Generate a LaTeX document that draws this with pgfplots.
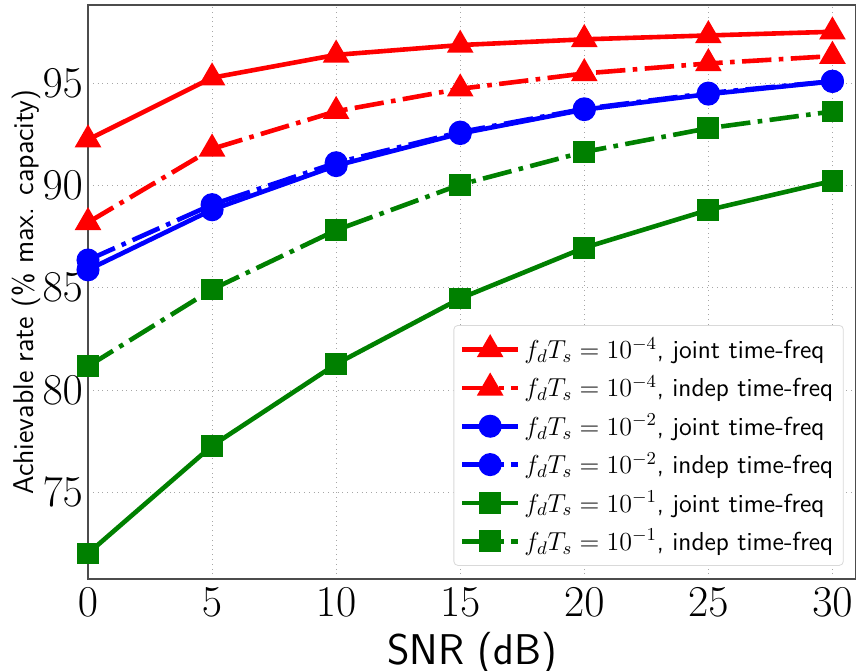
\documentclass[border=0pt]{standalone}
\usepackage{fix-cm}
\usepackage{fontspec}
\usepackage{pgfplots}
\pgfplotsset{compat=1.18}
\usetikzlibrary{calc}

\definecolor{mplgreen}{rgb}{0,0.5,0}

\pgfplotstableread{
snr  jt4   it4   jt2   it2   jt1   it1
0    92.25 88.2  85.88 86.36 72.0  81.16
5    95.28 91.8  88.82 89.07 77.27 84.92
10   96.40 93.64 90.98 91.12 81.27 87.82
15   96.88 94.74 92.55 92.62 84.48 90.05
20   97.16 95.49 93.72 93.76 86.96 91.65
25   97.35 95.98 94.48 94.53 88.81 92.81
30   97.53 96.34 95.10 95.11 90.23 93.63
}\rates

\tikzset{dashdotmpl/.style={dash pattern=on 14.7pt off 3.7pt on 2.3pt off 3.7pt}}

\begin{document}
\begin{tikzpicture}
\begin{axis}[
  name=ax,
  width=384pt, height=287pt,
  scale only axis,
  xmin=0, xmax=30.95,
  ymin=70.75, ymax=98.84,
  xtick={0,5,10,15,20,25,30},
  ytick={75,80,85,90,95},
  tick label style={font=\fontsize{22}{22}\selectfont},
  xticklabel style={yshift=-1pt},
  yticklabel style={xshift=1pt},
  xlabel={\sffamily SNR (dB)},
  ylabel={\sffamily Achievable rate (\% max. capacity)},
  xlabel style={font=\fontsize{21.5}{21.5}\selectfont, yshift=-1pt},
  ylabel style={font=\fontsize{14.3}{14.3}\selectfont, yshift=-6pt},
  axis line style={draw=black!70, line width=0.6pt},
  major tick length=0pt,
  grid=major,
  major grid style={draw=black!35, dotted, line width=0.4pt},
  legend style={
    at={(0.984,0.023)}, anchor=south east,
    draw=black!15, rounded corners=2pt, fill=white,
    font=\fontsize{13}{14}\selectfont\sffamily,
    row sep=3.1pt, inner xsep=3pt, inner ysep=4pt,
    cells={anchor=west},
  },
  legend image code/.code={%
    \draw[mark repeat=2,mark phase=2] plot coordinates {(0pt,0pt) (14pt,0pt) (28pt,0pt)};},
  every axis plot/.append style={line width=2.3pt},
]
\addplot[red, mark=triangle*, mark size=5.4pt, mark options={solid}] table[x=snr,y=jt4] {\rates};
\addlegendentry{$f_dT_s=10^{-4}$, joint time-freq}
\addplot[red, dashdotmpl, mark=triangle*, mark size=5.4pt, mark options={solid}] table[x=snr,y=it4] {\rates};
\addlegendentry{$f_dT_s=10^{-4}$, indep time-freq}
\addplot[blue, mark=*, mark size=4.6pt, mark options={solid}] table[x=snr,y=jt2] {\rates};
\addlegendentry{$f_dT_s=10^{-2}$, joint time-freq}
\addplot[blue, dashdotmpl, mark=*, mark size=4.6pt, mark options={solid}] table[x=snr,y=it2] {\rates};
\addlegendentry{$f_dT_s=10^{-2}$, indep time-freq}
\addplot[mplgreen, mark=square*, mark size=4.3pt, mark options={solid}] table[x=snr,y=jt1] {\rates};
\addlegendentry{$f_dT_s=10^{-1}$, joint time-freq}
\addplot[mplgreen, dashdotmpl, mark=square*, mark size=4.3pt, mark options={solid}] table[x=snr,y=it1] {\rates};
\addlegendentry{$f_dT_s=10^{-1}$, indep time-freq}
\end{axis}
\pgfresetboundingbox
\path[use as bounding box] ($(ax.south west)+(-44pt,-45.5pt)$) rectangle ($(ax.north east)+(0pt,2.5pt)$);
\end{tikzpicture}
\end{document}
